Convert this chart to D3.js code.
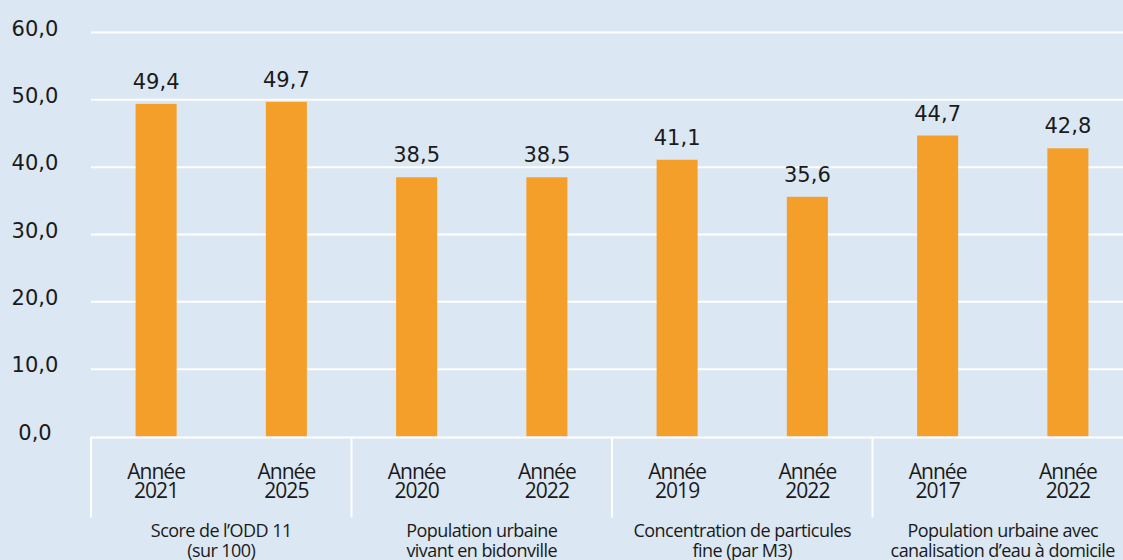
<!DOCTYPE html>
<html>
<head>
<meta charset="utf-8">
<script src="https://cdn.jsdelivr.net/npm/d3@7"></script>
<style>
  html, body { margin: 0; padding: 0; background: #dbe7f3; }
  svg { display: block; }
  .num { font-family: "DejaVu Sans", sans-serif; font-size: 21px; fill: #1a1a1a; }
  .cat { font-family: "Open Sans", sans-serif; font-size: 21px; fill: #1a1a1a; letter-spacing: -1px; }
  .grp { font-family: "Open Sans", sans-serif; font-size: 18px; fill: #1a1a1a; letter-spacing: -0.55px; }
</style>
</head>
<body>
<div id="chart"></div>
<script>
// chart data
const groups = ["Score de l’ODD 11|(sur 100)", "Population urbaine|vivant en bidonville",
  "Concentration de particules|fine (par M3)", "Population urbaine avec|canalisation d’eau à domicile"];
const groupOf = [0, 0, 1, 1, 2, 2, 3, 3];
const years = ["2021", "2025", "2020", "2022", "2019", "2022", "2017", "2022"];
const values = [49.4, 49.7, 38.5, 38.5, 41.1, 35.6, 44.7, 42.8];
const yTicks = [0, 10, 20, 30, 40, 50, 60];

const width = 1123;
const height = 560;
const margin = { top: 32.5, left: 91, right: -10, bottom: 123.5 };

const fmt = d3.formatLocale({ decimal: ",", thousands: " ", grouping: [3], currency: ["", "€"] }).format(".1f");

var svg = d3.select("#chart")
    .append("svg")
    .attr("width", width)
    .attr("height", height);

svg.append("rect").attr("width", width).attr("height", height).attr("fill", "#dbe7f3");

const items = values.map((v, i) => ({ i: i, value: v, year: years[i], group: groupOf[i] }));

var x = d3.scaleBand()
    .domain(items.map(d => d.i))
    .range([margin.left, width - margin.right])
    .paddingInner(0.685)
    .paddingOuter(0.685 / 2);

var xg = d3.scaleBand()
    .domain(groups.map((g, i) => i))
    .range([margin.left, width - margin.right]);

var y = d3.scaleLinear()
    .domain([0, 60])
    .range([height - margin.bottom, margin.top]);

// gridlines
svg.selectAll(".grid")
    .data(yTicks.slice(1))
    .enter().append("line")
    .attr("x1", margin.left)
    .attr("x2", width)
    .attr("y1", d => y(d))
    .attr("y2", d => y(d))
    .attr("stroke", "#ffffff")
    .attr("stroke-width", 2);

// y tick labels
svg.selectAll(".ylab")
    .data(yTicks)
    .enter().append("text")
    .attr("class", "num")
    .attr("x", 35)
    .attr("y", d => y(d) + 3)
    .attr("text-anchor", "middle")
    .text(d => fmt(d));

// bars
svg.selectAll(".bar")
    .data(items)
    .enter().append("rect")
    .attr("x", d => x(d.i))
    .attr("width", x.bandwidth())
    .attr("y", d => y(d.value))
    .attr("height", d => y(0) - y(d.value))
    .attr("fill", "#f59f2b");

// value labels
svg.selectAll(".vlab")
    .data(items)
    .enter().append("text")
    .attr("class", "num")
    .attr("x", d => x(d.i) + x.bandwidth() / 2)
    .attr("y", d => y(d.value) - 15)
    .attr("text-anchor", "middle")
    .text(d => fmt(d.value));

// axis line
svg.append("line")
    .attr("x1", margin.left)
    .attr("x2", width)
    .attr("y1", y(0) + 1)
    .attr("y2", y(0) + 1)
    .attr("stroke", "#ffffff")
    .attr("stroke-width", 2);

// group separators
svg.selectAll(".sep")
    .data(groups.map((g, i) => i))
    .enter().append("line")
    .attr("x1", d => xg(d))
    .attr("x2", d => xg(d))
    .attr("y1", y(0))
    .attr("y2", y(0) + 81)
    .attr("stroke", "#ffffff")
    .attr("stroke-width", 2);

// category labels
var cat = svg.selectAll(".catlab")
    .data(items)
    .enter().append("text")
    .attr("class", "cat")
    .attr("text-anchor", "middle")
    .attr("transform", d => "translate(" + (x(d.i) + x.bandwidth() / 2) + "," + (y(0) + 42) + ")");
cat.append("tspan").attr("x", 0).attr("y", 0).text("Année");
cat.append("tspan").attr("x", 0).attr("y", 19.4).text(d => d.year);

// group labels
var grp = svg.selectAll(".grplab")
    .data(groups)
    .enter().append("text")
    .attr("class", "grp")
    .attr("text-anchor", "middle")
    .attr("transform", (d, i) => "translate(" + (xg(i) + xg.bandwidth() / 2) + "," + (y(0) + 100.2) + ")");
grp.each(function (d) {
    var t = d3.select(this);
    d.split("|").forEach((line, k) => {
        t.append("tspan").attr("x", 0).attr("y", k * 20).text(line);
    });
});
</script>
</body>
</html>
